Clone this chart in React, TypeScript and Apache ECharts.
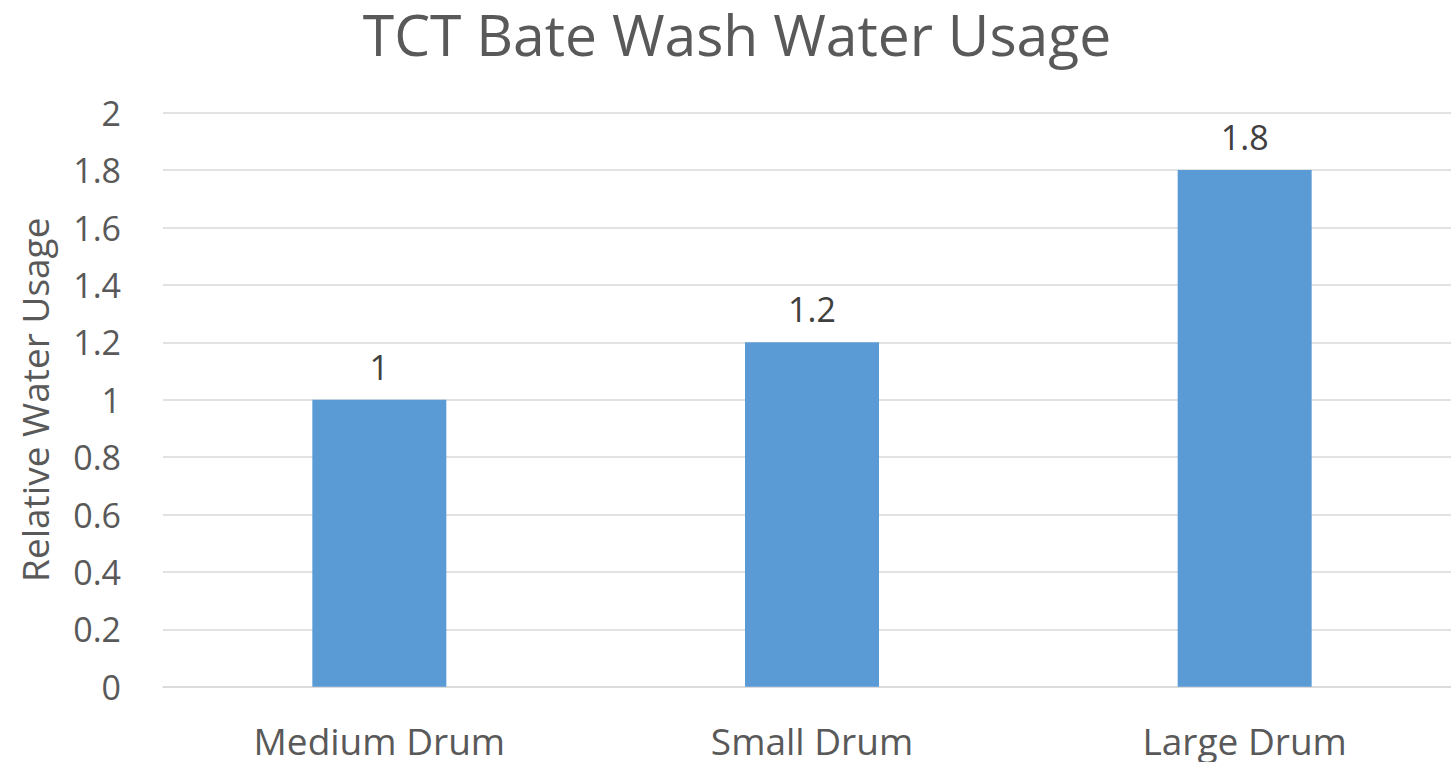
import React, { useEffect, useRef } from "react";
import * as echarts from "echarts";

const categories = ["Medium Drum", "Small Drum", "Large Drum"];
const values = [1, 1.2, 1.8];
const yTicks = [0, 0.2, 0.4, 0.6, 0.8, 1, 1.2, 1.4, 1.6, 1.8, 2];

const FONT = "'Open Sans', sans-serif";

export default function App() {
  const ref = useRef<HTMLDivElement>(null);
  useEffect(() => {
    if (!ref.current) return;
    const chart = echarts.init(ref.current, undefined, { renderer: "svg" });
    chart.setOption({
      animation: false,
      backgroundColor: "#ffffff",
      title: {
        text: "TCT Bate Wash Water Usage",
        left: 732,
        textAlign: "center",
        top: 0,
        textStyle: { fontFamily: FONT, fontSize: 57, fontWeight: "normal", color: "#595959" },
      },
      grid: { left: 163, right: 0, top: 112.7, bottom: 75.3, containLabel: false },
      xAxis: {
        type: "category",
        data: categories,
        axisLine: { show: true, lineStyle: { color: "#D9D9D9", width: 1.5 } },
        axisTick: { show: false },
        axisLabel: { fontFamily: FONT, fontSize: 37, color: "#595959", margin: 35 },
      },
      yAxis: {
        type: "value",
        min: yTicks[0],
        max: yTicks[yTicks.length - 1],
        interval: 0.2,
        name: "Relative Water Usage",
        nameLocation: "middle",
        nameGap: 110,
        nameTextStyle: { fontFamily: FONT, fontSize: 37, color: "#595959" },
        axisLine: { show: false },
        axisTick: { show: false },
        splitLine: { lineStyle: { color: "#D9D9D9", width: 1.5 } },
        axisLabel: { fontFamily: FONT, fontSize: 34, color: "#595959", margin: 42 },
      },
      series: [
        {
          type: "bar",
          data: values,
          barWidth: 134,
          itemStyle: { color: "#5B9BD5" },
          label: {
            show: true,
            position: "top",
            distance: 16,
            fontFamily: FONT,
            fontSize: 34,
            color: "#404040",
          },
        },
      ],
    });
    return () => chart.dispose();
  }, []);
  return (
    <div
      style={{ position: "absolute", left: 0, top: 0, width: 1451, height: 762, overflow: "hidden" }}
    >
      <div ref={ref} style={{ width: 1461, height: 762 }} />
    </div>
  );
}
